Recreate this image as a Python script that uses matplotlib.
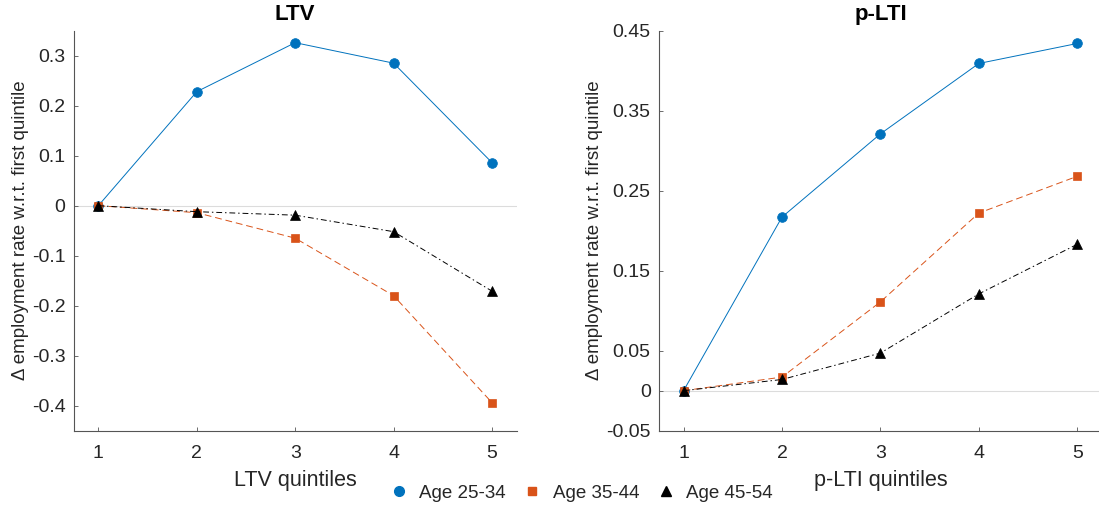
import matplotlib.pyplot as plt

plt.rcParams['font.family'] = ['Liberation Sans', 'DejaVu Sans']

quintiles = [1, 2, 3, 4, 5]
groups = ['Age 25-34', 'Age 35-44', 'Age 45-54']

# change in employment rate relative to the first quintile
ltv_25_34 = [0.0, 0.228, 0.326, 0.285, 0.086]
ltv_35_44 = [0.0, -0.014, -0.065, -0.180, -0.394]
ltv_45_54 = [0.0, -0.012, -0.019, -0.052, -0.171]

plti_25_34 = [0.0, 0.217, 0.321, 0.409, 0.434]
plti_35_44 = [0.0, 0.017, 0.111, 0.222, 0.268]
plti_45_54 = [0.0, 0.014, 0.047, 0.121, 0.183]

ltv_yticks = [-0.4, -0.3, -0.2, -0.1, 0, 0.1, 0.2, 0.3]
plti_yticks = [-0.05, 0, 0.05, 0.15, 0.25, 0.35, 0.45]

styles = [
    dict(color='#0072BD', linestyle='-', marker='o', markersize=7),
    dict(color='#D95319', linestyle=(0, (7, 4)), marker='s', markersize=5.5),
    dict(color='black', linestyle=(0, (6, 3, 1.5, 3)), marker='^', markersize=7.5),
]

axis_col = '#555555'
text_col = '#262626'

fig = plt.figure(figsize=(10.99, 5.12), dpi=100)
ax1 = fig.add_axes([0.0671, 0.1588, 0.403, 0.7813])
ax2 = fig.add_axes([0.5996, 0.1588, 0.403, 0.7813])


def draw(ax, series, title, xlabel, ylim, yticks, ylabels):
    ax.axhline(0, color='#dcdcdc', lw=0.8, zorder=1)
    for vals, st, name in zip(series, styles, groups):
        ax.plot(quintiles, vals, lw=0.7, label=name, zorder=3,
                markeredgewidth=0.5, markerfacecolor=st['color'],
                markeredgecolor=st['color'], **st)
    ax.set_xlim(0.75, 5.25)
    ax.set_ylim(*ylim)
    ax.set_xticks(quintiles)
    ax.set_yticks(yticks)
    ax.set_yticklabels(ylabels)
    for s in ['top', 'right']:
        ax.spines[s].set_visible(False)
    for s in ['left', 'bottom']:
        ax.spines[s].set_color(axis_col)
        ax.spines[s].set_linewidth(0.8)
    ax.tick_params(direction='in', length=3, width=0.6, color=axis_col,
                   labelcolor=text_col, labelsize=14)
    ax.tick_params(axis='x', pad=10)
    ax.tick_params(axis='y', pad=6)
    ax.set_title(title, fontsize=16, fontweight='bold', pad=8)
    ax.set_xlabel(xlabel, fontsize=15.5, color=text_col, labelpad=6)
    ax.set_ylabel('Δ employment rate w.r.t. first quintile', fontsize=13.5,
                  color=text_col, labelpad=2)


draw(ax1, [ltv_25_34, ltv_35_44, ltv_45_54], 'LTV', 'LTV quintiles',
     (-0.45, 0.35), ltv_yticks, ['-0.4', '-0.3', '-0.2', '-0.1', '0', '0.1', '0.2', '0.3'])
draw(ax2, [plti_25_34, plti_35_44, plti_45_54], 'p-LTI', 'p-LTI quintiles',
     (-0.05, 0.45), plti_yticks, ['-0.05', '0', '0.05', '0.15', '0.25', '0.35', '0.45'])

handles, labels = ax1.get_legend_handles_labels()
leg_handles = [plt.Line2D([], [], linestyle='none', marker=st['marker'],
                          markersize=st['markersize'], color=st['color'])
               for st in styles]
fig.legend(leg_handles, labels, loc='center', bbox_to_anchor=(0.528, 1 - 493 / 512),
           ncol=3, frameon=False, fontsize=13.5, handletextpad=0.5,
           handlelength=1.2, columnspacing=0.8, labelcolor=text_col)

fig.savefig('out.png', dpi=100)
